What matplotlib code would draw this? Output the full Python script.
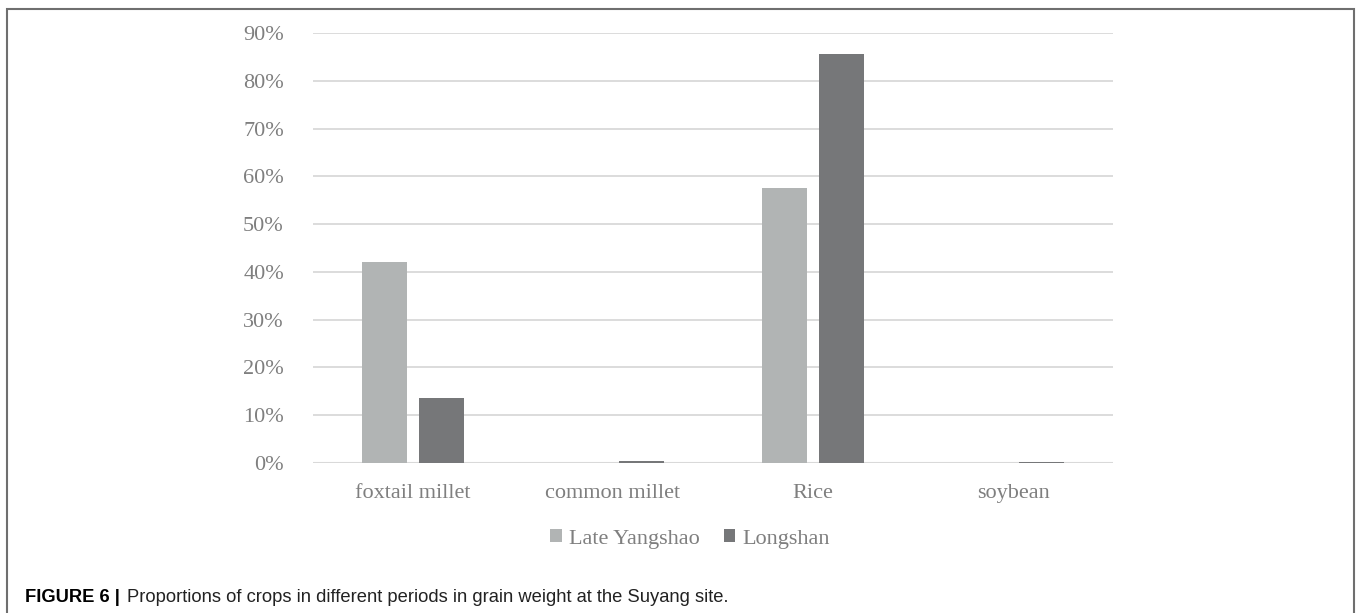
import numpy as np
import matplotlib.pyplot as plt
from matplotlib.patches import Rectangle
from matplotlib.ticker import PercentFormatter

crops = ["foxtail millet", "common millet", "Rice", "soybean"]
late_yangshao = [0.420, 0.001, 0.575, 0.000]
longshan = [0.137, 0.005, 0.857, 0.003]
series_names = ["Late Yangshao", "Longshan"]

c_ly = "#b1b4b4"
c_ls = "#767779"
tick_col = "#7f7f7f"

fig = plt.figure(figsize=(13.57, 6.13), dpi=100)
ax = fig.add_axes([0.2307, 0.2447, 0.5895, 0.7015])

x = np.arange(len(crops))
w = 0.225
ax.bar(x - 0.1425, late_yangshao, w, color=c_ly, label=series_names[0], zorder=3)
ax.bar(x + 0.1425, longshan, w, color=c_ls, label=series_names[1], zorder=3)

ax.set_xlim(-0.5, 3.5)
ax.set_ylim(0, 0.9)
ax.set_yticks(np.arange(0, 0.91, 0.1))
ax.yaxis.set_major_formatter(PercentFormatter(1.0, decimals=0))
ax.grid(axis="y", color="#d9d9d9", linewidth=1.3, zorder=0)
ax.set_axisbelow(True)
for s in ax.spines.values():
    s.set_visible(False)
ax.axhline(0, color="#d9d9d9", linewidth=1.5, zorder=2)

ax.set_xticks(x)
ax.set_xticklabels(crops)
ax.tick_params(length=0)
ax.tick_params(axis="y", pad=21)
ax.tick_params(axis="x", pad=15)
for lab in ax.get_xticklabels() + ax.get_yticklabels():
    lab.set_fontfamily("Liberation Serif")
    lab.set_fontsize(16)
    lab.set_color(tick_col)

leg = fig.legend(loc="center", bbox_to_anchor=(690 / 1357, 1 - 539 / 613), ncol=2,
                 frameon=False, handlelength=0.52, handleheight=0.52,
                 handletextpad=0.32, columnspacing=1.1,
                 prop={"family": "Liberation Serif", "size": 16})
for t in leg.get_texts():
    t.set_color(tick_col)

# outer frame of the figure panel
fig.patches.append(Rectangle((7 / 1357, -0.05), (1354 - 7) / 1357, 1.05 - 9 / 613,
                             transform=fig.transFigure, fill=False,
                             edgecolor="#6f6f6f", linewidth=1.5))

fig.text(25 / 1357, 1 - 602 / 613, "FIGURE 6 |", fontweight="bold",
         family="Liberation Sans", fontsize=13.2, va="baseline")
fig.text(127 / 1357, 1 - 602 / 613,
         "Proportions of crops in different periods in grain weight at the Suyang site.",
         family="Liberation Sans", fontsize=13.2, va="baseline", color="#222222")

fig.savefig("out.png", dpi=100)
